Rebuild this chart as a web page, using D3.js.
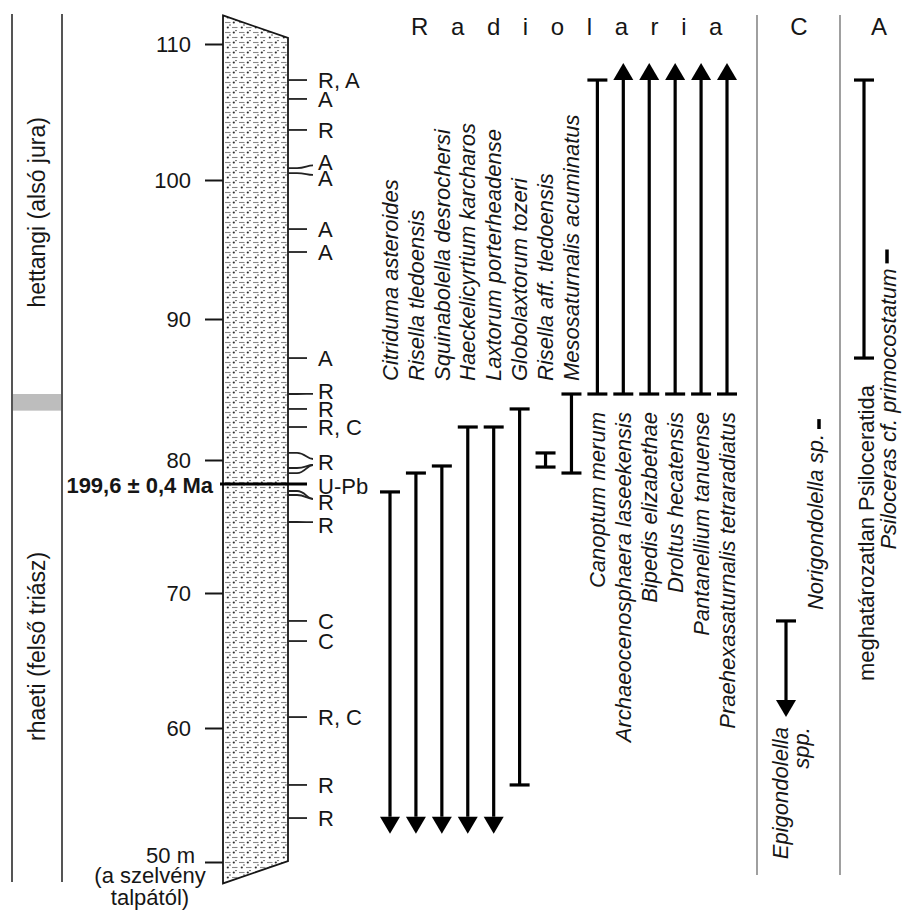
<!DOCTYPE html>
<html>
<head>
<meta charset="utf-8">
<script src="https://cdn.jsdelivr.net/npm/d3@7"></script>
<style>
  html, body { margin: 0; padding: 0; background: #fff; }
  svg { display: block; font-family: "Liberation Sans", Arial, Helvetica, sans-serif; }
</style>
</head>
<body>
<svg id="chart" width="904" height="911"></svg>
<script>
// ---- depth axis (metres above the base of the section) ----
const depthTicks = [50, 60, 70, 80, 90, 100, 110];
const depthTickLabels = ["50 m", "60", "70", "80", "90", "100", "110"];
const axisNote = ["(a szelvény", "talpától)"];

// ---- lithological column outline: [left side, right side] ----
const columnTop = [112.1, 110.45];
const columnBase = [48.4, 50.07];

// ---- stages ----
const stageNames = ["hettangi (alsó jura)", "rhaeti (felső triász)"];
const stageRanges = [[83.5, 112.2], [48.5, 83.5]];
const boundaryBand = [83.5, 84.68];

// ---- sampled levels and their labels ----
const sampleDepths = [107.35, 105.96, 103.68, 100.88, 100.51, 96.47, 94.82, 87.23,
                      84.68, 83.62, 82.34, 80.50, 79.40, 79.02, 77.67, 77.37, 75.34,
                      67.93, 66.44, 60.81, 55.75, 53.28];
const sampleLabelIndex = [0, 1, 2, 3, 4, 5, 6, 7, 8, 9, 10, 11, 11, 11, 13, 13, 14,
                          15, 16, 17, 18, 19];
const sampleLabels = ["R, A", "A", "R", "A", "A", "A", "A", "A", "R", "R", "R, C",
                      "R", "U-Pb", "R", "R", "C", "C", "R, C", "R", "R"];
const sampleLabelDepths = [107.35, 105.96, 103.68, 101.3, 100.15, 96.47, 94.82, 87.23,
                           84.9, 83.62, 82.34, 79.85, 78.05, 76.85, 75.1, 67.93, 66.44,
                           60.81, 55.75, 53.28];

// ---- radiometric age ----
const datedLevel = 78.2;
const datedLabel = "199,6 ± 0,4 Ma";

// ---- Radiolaria ranges ----
const radiolarianSpecies = [
  "Citriduma asteroides", "Risella tledoensis", "Squinabolella desrochersi",
  "Haeckelicyrtium karcharos", "Laxtorum porterheadense", "Globolaxtorum tozeri",
  "Risella aff. tledoensis", "Mesosaturnalis acuminatus",
  "Canoptum merum", "Archaeocenosphaera laseekensis", "Bipedis elizabethae",
  "Droltus hecatensis", "Pantanellium tanuense", "Praehexasaturnalis tetraradiatus"
];
const radiolarianBase = [52.1, 52.1, 52.1, 52.1, 52.1, 55.75, 79.47, 79.02,
                         84.68, 84.68, 84.68, 84.68, 84.68, 84.68];
const radiolarianTop = [77.6, 79.02, 79.55, 82.34, 82.34, 83.62, 80.5, 84.68,
                        107.35, 108.6, 108.6, 108.6, 108.6, 108.6];
const radiolarianBaseEnd = ["arrow", "arrow", "arrow", "arrow", "arrow", "cap", "cap", "cap",
                            "cap", "cap", "cap", "cap", "cap", "cap"];
const radiolarianTopEnd = ["cap", "cap", "cap", "cap", "cap", "cap", "cap", "cap",
                           "cap", "arrow", "arrow", "arrow", "arrow", "arrow"];

// ---- Conodonta (C) ----
const conodontTaxa = [["Epigondolella", "spp."], ["Norigondolella sp."]];
const conodontBase = [60.81, 82.2];
const conodontTop = [67.93, 82.9];
const conodontBaseEnd = ["arrow", "none"];
const conodontTopEnd = ["cap", "none"];

// ---- Ammonoidea (A) ----
const ammoniteTaxa = ["meghatározatlan Psiloceratida", "Psiloceras cf. primocostatum"];
const ammoniteBase = [87.23, 94.0];
const ammoniteTop = [107.35, 95.0];
const ammoniteBaseEnd = ["cap", "none"];
const ammoniteTopEnd = ["cap", "none"];

// ---- column headers ----
const groupHeaders = ["Radiolaria", "C", "A"];

// =====================================================================
const svg = d3.select("#chart");
const ink = "#161616";

const y = d3.scaleLinear().domain(depthTicks).range([862, 728, 593, 460, 319, 180, 44]);

// lithology fill: silty marl, dashes with scattered grains
const defs = svg.append("defs");
const pat = defs.append("pattern")
  .attr("id", "lith").attr("patternUnits", "userSpaceOnUse")
  .attr("width", 14).attr("height", 10);
pat.append("rect").attr("width", 14).attr("height", 10).attr("fill", "#fff");
[[1, 2.5, 6.5], [8, 7.5, 13.5]].forEach(([x1, yy, x2]) =>
  pat.append("line").attr("x1", x1).attr("x2", x2).attr("y1", yy).attr("y2", yy)
    .attr("stroke", "#8a8a8a").attr("stroke-width", 1.1));
[[9.8, 2.5, 1.1], [3.8, 7.5, 1.1], [12, 0.6, 0.7], [6, 5, 0.7]].forEach(([cx, cy, r]) =>
  pat.append("circle").attr("cx", cx).attr("cy", cy).attr("r", r).attr("fill", "#2a2a2a"));

// ---- stage column ----
const stageX = [12, 62];
svg.append("rect")
  .attr("x", stageX[0]).attr("width", stageX[1] - stageX[0])
  .attr("y", y(boundaryBand[1])).attr("height", y(boundaryBand[0]) - y(boundaryBand[1]))
  .attr("fill", "#bdbdbd");
stageX.forEach(x => svg.append("line")
  .attr("x1", x).attr("x2", x)
  .attr("y1", y(stageRanges[0][1])).attr("y2", y(stageRanges[1][0]))
  .attr("stroke", "#555").attr("stroke-width", 2));
svg.selectAll("text.stage").data(stageNames).join("text")
  .attr("class", "stage")
  .attr("transform", (d, i) => {
    const cy = (y(stageRanges[i][0]) + y(stageRanges[i][1])) / 2;
    return `translate(${(stageX[0] + stageX[1]) / 2},${cy}) rotate(-90)`;
  })
  .attr("text-anchor", "middle").attr("dy", "0.35em")
  .attr("font-size", 23).attr("fill", ink)
  .text(d => d);

// ---- depth axis ----
const colLeft = 223, colRight = 288;
const axis = d3.axisLeft(y).tickValues(depthTicks)
  .tickFormat((d, i) => depthTickLabels[i]).tickSize(18).tickPadding(14);
const gAxis = svg.append("g").attr("transform", `translate(${colLeft},0)`).call(axis);
gAxis.attr("font-family", null).attr("font-size", null);
gAxis.select(".domain").remove();
gAxis.selectAll(".tick line").attr("stroke", ink).attr("stroke-width", 2);
gAxis.selectAll(".tick text").attr("font-size", 22).attr("fill", ink)
  .attr("dy", d => d === depthTicks[0] ? "0.02em" : "0.33em")
  .attr("x", d => d === depthTicks[0] ? -28 : -32);
svg.selectAll("text.note").data(axisNote).join("text")
  .attr("class", "note")
  .attr("x", 150).attr("y", (d, i) => y(depthTicks[0]) + 21 + i * 22)
  .attr("text-anchor", "middle").attr("font-size", 22).attr("fill", ink)
  .text(d => d);

// ---- lithological column ----
const outline = [
  [colLeft, y(columnTop[0])], [colRight, y(columnTop[1])],
  [colRight, y(columnBase[1])], [colLeft, y(columnBase[0])]
];
svg.append("path")
  .attr("d", d3.line()(outline) + "Z")
  .attr("fill", "url(#lith)").attr("stroke", ink).attr("stroke-width", 1.8);

// ---- sample ticks with leaders ----
const gSamples = svg.append("g");
sampleDepths.forEach((d, i) => {
  const sy = y(d);
  const ly = y(sampleLabelDepths[sampleLabelIndex[i]]);
  let path;
  if (Math.abs(ly - sy) < 3) {
    path = `M${colRight},${sy}H${colRight + 19}`;
  } else {
    const ey = ly + (sy < ly ? -3 : 3);
    path = `M${colRight},${sy}H${colRight + 9}C${colRight + 17},${sy} ${colRight + 19},${ey} ${colRight + 25},${ey}`;
  }
  gSamples.append("path").attr("d", path)
    .attr("fill", "none").attr("stroke", "#222").attr("stroke-width", 1.8);
});
// dated level
svg.append("line")
  .attr("x1", colLeft - 3).attr("x2", colRight + 19)
  .attr("y1", y(datedLevel)).attr("y2", y(datedLevel))
  .attr("stroke", "#000").attr("stroke-width", 3);
svg.append("text")
  .attr("x", colLeft - 10).attr("y", y(datedLevel) + 1).attr("dy", "0.35em")
  .attr("text-anchor", "end").attr("font-size", 22).attr("font-weight", "bold")
  .attr("fill", ink).text(datedLabel);
svg.selectAll("text.sample").data(sampleLabels).join("text")
  .attr("class", "sample")
  .attr("x", colRight + 30).attr("y", (d, i) => y(sampleLabelDepths[i])).attr("dy", "0.36em")
  .attr("font-size", 22).attr("fill", ink)
  .text(d => d);

// ---- range bars ----
const capW = 20, arrowH = 17, arrowW = 20;
function drawRange(g, x, lo, hi, loEnd, hiEnd) {
  const yLo = y(lo), yHi = y(hi);
  if (loEnd === "none" && hiEnd === "none") {
    g.append("line").attr("x1", x).attr("x2", x).attr("y1", yHi).attr("y2", yLo)
      .attr("stroke", "#000").attr("stroke-width", 3.5);
    return;
  }
  const top = hiEnd === "arrow" ? yHi + arrowH : yHi;
  const bot = loEnd === "arrow" ? yLo - arrowH : yLo;
  g.append("line").attr("x1", x).attr("x2", x).attr("y1", top).attr("y2", bot)
    .attr("stroke", "#000").attr("stroke-width", 3.2);
  [[yHi, hiEnd, 1], [yLo, loEnd, -1]].forEach(([yy, end, dir]) => {
    if (end === "cap") {
      g.append("line").attr("x1", x - capW / 2).attr("x2", x + capW / 2)
        .attr("y1", yy).attr("y2", yy).attr("stroke", "#000").attr("stroke-width", 3.2);
    } else if (end === "arrow") {
      g.append("path")
        .attr("d", `M${x},${yy}L${x - arrowW / 2},${yy + dir * arrowH}L${x + arrowW / 2},${yy + dir * arrowH}Z`)
        .attr("fill", "#000");
    }
  });
}

// ---- Radiolaria ----
const xr = d3.scalePoint().domain(radiolarianSpecies).range([390, 727]);
const gRad = svg.append("g");
radiolarianSpecies.forEach((s, i) =>
  drawRange(gRad, xr(s), radiolarianBase[i], radiolarianTop[i],
            radiolarianBaseEnd[i], radiolarianTopEnd[i]));
const boundaryDepth = boundaryBand[1];
svg.selectAll("text.rad").data(radiolarianSpecies).join("text")
  .attr("class", "rad")
  .attr("transform", (s, i) => {
    const above = radiolarianTop[i] <= boundaryDepth;
    const yy = above ? y(boundaryDepth) - 13 : y(boundaryDepth) + 18;
    return `translate(${xr(s)},${yy}) rotate(-90)`;
  })
  .attr("text-anchor", (s, i) => radiolarianTop[i] <= boundaryDepth ? "start" : "end")
  .attr("dy", "0.35em").attr("font-size", 22).attr("font-style", "italic").attr("fill", ink)
  .text(s => s);

// ---- group separators and headers ----
const sepX = [757, 840];
sepX.forEach(x => svg.append("line")
  .attr("x1", x).attr("x2", x).attr("y1", 15).attr("y2", 875)
  .attr("stroke", "#777").attr("stroke-width", 1.4));
svg.append("text").attr("x", 411).attr("y", 35)
  .attr("font-size", 24).attr("letter-spacing", "22.6px").attr("fill", ink)
  .text(groupHeaders[0]);
svg.append("text").attr("x", 799).attr("y", 35).attr("text-anchor", "middle")
  .attr("font-size", 24).attr("fill", ink).text(groupHeaders[1]);
svg.append("text").attr("x", 879).attr("y", 35).attr("text-anchor", "middle")
  .attr("font-size", 24).attr("fill", ink).text(groupHeaders[2]);

// ---- Conodonta ----
const xc = [786, 819];
const gCon = svg.append("g");
conodontTaxa.forEach((t, i) =>
  drawRange(gCon, xc[i], conodontBase[i], conodontTop[i], conodontBaseEnd[i], conodontTopEnd[i]));
// Epigondolella spp. (below its range)
const epi = svg.append("text")
  .attr("transform", `translate(${xc[0] - 6},${y(conodontBase[0]) + 10}) rotate(-90)`)
  .attr("text-anchor", "end").attr("font-size", 22).attr("font-style", "italic").attr("fill", ink);
conodontTaxa[0].forEach((line, k) => epi.append("tspan")
  .attr("x", 0).attr("dy", k === 0 ? "0.35em" : "0.95em").text(line));
// Norigondolella sp. (below its occurrence)
svg.append("text")
  .attr("transform", `translate(${xc[1] - 4},${y(conodontBase[1]) + 5}) rotate(-90)`)
  .attr("text-anchor", "end").attr("dy", "0.35em")
  .attr("font-size", 22).attr("font-style", "italic").attr("fill", ink)
  .text(conodontTaxa[1][0]);

// ---- Ammonoidea ----
const xa = [864, 887];
const gAmm = svg.append("g");
ammoniteTaxa.forEach((t, i) =>
  drawRange(gAmm, xa[i], ammoniteBase[i], ammoniteTop[i], ammoniteBaseEnd[i], ammoniteTopEnd[i]));
svg.append("text")
  .attr("transform", `translate(${xa[0] + 2},${y(ammoniteBase[0]) + 27}) rotate(-90)`)
  .attr("text-anchor", "end").attr("dy", "0.35em")
  .attr("font-size", 22).attr("fill", ink).text(ammoniteTaxa[0]);
svg.append("text")
  .attr("transform", `translate(${xa[1] + 1},${y(ammoniteBase[1]) + 5}) rotate(-90)`)
  .attr("text-anchor", "end").attr("dy", "0.35em")
  .attr("font-size", 22).attr("font-style", "italic").attr("fill", ink).text(ammoniteTaxa[1]);
</script>
</body>
</html>
